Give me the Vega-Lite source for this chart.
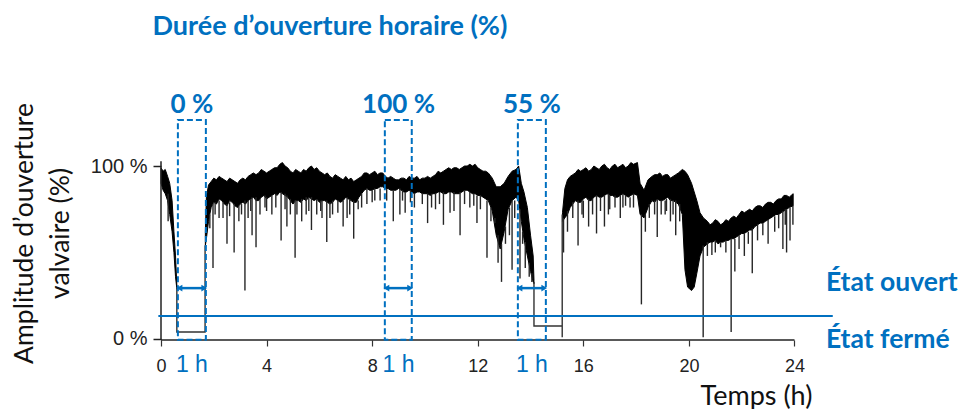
{
  "$schema": "https://vega.github.io/schema/vega-lite/v6.json",
  "width": 799,
  "height": 340,
  "autosize": {"type": "none"},
  "padding": {"left": 161, "top": 0, "right": 0, "bottom": 69},
  "background": "white",
  "config": {"view": {"stroke": null}, "font": "Liberation Sans"},
  "datasets": {
    "band": [
      {"seg": "A", "t": 0.0, "hi": 99, "lo": 90},
      {"seg": "A", "t": 0.08, "hi": 97, "lo": 86},
      {"seg": "A", "t": 0.16, "hi": 98, "lo": 84},
      {"seg": "A", "t": 0.25, "hi": 94, "lo": 80},
      {"seg": "A", "t": 0.33, "hi": 90, "lo": 72},
      {"seg": "A", "t": 0.42, "hi": 80, "lo": 62},
      {"seg": "A", "t": 0.49, "hi": 62, "lo": 50},
      {"seg": "A", "t": 0.55, "hi": 48, "lo": 36},
      {"seg": "A", "t": 0.6, "hi": 31, "lo": 29},
      {"seg": "B", "t": 1.68, "hi": 62, "lo": 54},
      {"seg": "B", "t": 1.72, "hi": 82, "lo": 58},
      {"seg": "B", "t": 1.8, "hi": 89, "lo": 68},
      {"seg": "B", "t": 1.9, "hi": 91, "lo": 76},
      {"seg": "B", "t": 2.0, "hi": 93, "lo": 79},
      {"seg": "B", "t": 2.1, "hi": 92, "lo": 78},
      {"seg": "B", "t": 2.2, "hi": 94, "lo": 81},
      {"seg": "B", "t": 2.3, "hi": 93, "lo": 80},
      {"seg": "B", "t": 2.4, "hi": 92, "lo": 78},
      {"seg": "B", "t": 2.5, "hi": 91, "lo": 77},
      {"seg": "B", "t": 2.6, "hi": 93, "lo": 80},
      {"seg": "B", "t": 2.7, "hi": 92, "lo": 79},
      {"seg": "B", "t": 2.8, "hi": 91, "lo": 77},
      {"seg": "B", "t": 2.9, "hi": 90, "lo": 76},
      {"seg": "B", "t": 3.0, "hi": 92, "lo": 78},
      {"seg": "B", "t": 3.1, "hi": 93, "lo": 79},
      {"seg": "B", "t": 3.2, "hi": 92, "lo": 78},
      {"seg": "B", "t": 3.3, "hi": 94, "lo": 80},
      {"seg": "B", "t": 3.4, "hi": 95, "lo": 81},
      {"seg": "B", "t": 3.5, "hi": 96, "lo": 82},
      {"seg": "B", "t": 3.6, "hi": 95, "lo": 80},
      {"seg": "B", "t": 3.7, "hi": 96, "lo": 80},
      {"seg": "B", "t": 3.8, "hi": 98, "lo": 82},
      {"seg": "B", "t": 3.9, "hi": 97, "lo": 83},
      {"seg": "B", "t": 4.0, "hi": 96, "lo": 81},
      {"seg": "B", "t": 4.1, "hi": 97, "lo": 82},
      {"seg": "B", "t": 4.2, "hi": 98, "lo": 83},
      {"seg": "B", "t": 4.3, "hi": 99, "lo": 84},
      {"seg": "B", "t": 4.4, "hi": 99, "lo": 83},
      {"seg": "B", "t": 4.5, "hi": 101, "lo": 85},
      {"seg": "B", "t": 4.6, "hi": 102, "lo": 84},
      {"seg": "B", "t": 4.7, "hi": 100, "lo": 83},
      {"seg": "B", "t": 4.8, "hi": 99, "lo": 82},
      {"seg": "B", "t": 4.9, "hi": 97, "lo": 80},
      {"seg": "B", "t": 5.0, "hi": 96, "lo": 78},
      {"seg": "B", "t": 5.1, "hi": 98, "lo": 80},
      {"seg": "B", "t": 5.2, "hi": 97, "lo": 80},
      {"seg": "B", "t": 5.3, "hi": 96, "lo": 79},
      {"seg": "B", "t": 5.4, "hi": 98, "lo": 81},
      {"seg": "B", "t": 5.5, "hi": 97, "lo": 80},
      {"seg": "B", "t": 5.6, "hi": 99, "lo": 82},
      {"seg": "B", "t": 5.7, "hi": 100, "lo": 81},
      {"seg": "B", "t": 5.8, "hi": 98, "lo": 80},
      {"seg": "B", "t": 5.9, "hi": 99, "lo": 81},
      {"seg": "B", "t": 6.0, "hi": 97, "lo": 79},
      {"seg": "B", "t": 6.1, "hi": 96, "lo": 80},
      {"seg": "B", "t": 6.2, "hi": 95, "lo": 80},
      {"seg": "B", "t": 6.3, "hi": 96, "lo": 79},
      {"seg": "B", "t": 6.4, "hi": 94, "lo": 78},
      {"seg": "B", "t": 6.5, "hi": 93, "lo": 79},
      {"seg": "B", "t": 6.6, "hi": 95, "lo": 81},
      {"seg": "B", "t": 6.7, "hi": 94, "lo": 80},
      {"seg": "B", "t": 6.8, "hi": 93, "lo": 79},
      {"seg": "B", "t": 6.9, "hi": 92, "lo": 80},
      {"seg": "B", "t": 7.0, "hi": 94, "lo": 82},
      {"seg": "B", "t": 7.1, "hi": 92, "lo": 81},
      {"seg": "B", "t": 7.2, "hi": 93, "lo": 80},
      {"seg": "B", "t": 7.3, "hi": 91, "lo": 79},
      {"seg": "B", "t": 7.4, "hi": 92, "lo": 79},
      {"seg": "B", "t": 7.5, "hi": 93, "lo": 82},
      {"seg": "B", "t": 7.6, "hi": 94, "lo": 84},
      {"seg": "B", "t": 7.7, "hi": 96, "lo": 86},
      {"seg": "B", "t": 7.8, "hi": 96, "lo": 87},
      {"seg": "B", "t": 7.9, "hi": 95, "lo": 86},
      {"seg": "B", "t": 8.0, "hi": 96, "lo": 86},
      {"seg": "B", "t": 8.1, "hi": 97, "lo": 87},
      {"seg": "B", "t": 8.2, "hi": 95, "lo": 87},
      {"seg": "B", "t": 8.3, "hi": 96, "lo": 88},
      {"seg": "B", "t": 8.4, "hi": 96, "lo": 88},
      {"seg": "B", "t": 8.5, "hi": 94, "lo": 87},
      {"seg": "B", "t": 8.6, "hi": 93, "lo": 87},
      {"seg": "B", "t": 8.7, "hi": 94, "lo": 86},
      {"seg": "B", "t": 8.8, "hi": 93, "lo": 86},
      {"seg": "B", "t": 8.9, "hi": 92, "lo": 86},
      {"seg": "B", "t": 9.0, "hi": 92, "lo": 87},
      {"seg": "B", "t": 9.1, "hi": 93, "lo": 86},
      {"seg": "B", "t": 9.2, "hi": 93, "lo": 85},
      {"seg": "B", "t": 9.3, "hi": 92, "lo": 85},
      {"seg": "B", "t": 9.4, "hi": 94, "lo": 86},
      {"seg": "B", "t": 9.5, "hi": 93, "lo": 85},
      {"seg": "B", "t": 9.6, "hi": 93, "lo": 84},
      {"seg": "B", "t": 9.7, "hi": 94, "lo": 85},
      {"seg": "B", "t": 9.8, "hi": 92, "lo": 85},
      {"seg": "B", "t": 9.9, "hi": 93, "lo": 84},
      {"seg": "B", "t": 10.0, "hi": 93, "lo": 84},
      {"seg": "B", "t": 10.1, "hi": 94, "lo": 84},
      {"seg": "B", "t": 10.2, "hi": 93, "lo": 83},
      {"seg": "B", "t": 10.3, "hi": 94, "lo": 84},
      {"seg": "B", "t": 10.4, "hi": 95, "lo": 84},
      {"seg": "B", "t": 10.5, "hi": 97, "lo": 85},
      {"seg": "B", "t": 10.6, "hi": 96, "lo": 85},
      {"seg": "B", "t": 10.7, "hi": 97, "lo": 84},
      {"seg": "B", "t": 10.8, "hi": 98, "lo": 84},
      {"seg": "B", "t": 10.9, "hi": 99, "lo": 85},
      {"seg": "B", "t": 11.0, "hi": 98, "lo": 85},
      {"seg": "B", "t": 11.1, "hi": 99, "lo": 84},
      {"seg": "B", "t": 11.2, "hi": 99, "lo": 84},
      {"seg": "B", "t": 11.3, "hi": 98, "lo": 84},
      {"seg": "B", "t": 11.4, "hi": 99, "lo": 85},
      {"seg": "B", "t": 11.5, "hi": 100, "lo": 86},
      {"seg": "B", "t": 11.6, "hi": 100, "lo": 86},
      {"seg": "B", "t": 11.7, "hi": 101, "lo": 85},
      {"seg": "B", "t": 11.8, "hi": 100, "lo": 84},
      {"seg": "B", "t": 11.9, "hi": 101, "lo": 84},
      {"seg": "B", "t": 12.0, "hi": 99, "lo": 83},
      {"seg": "B", "t": 12.1, "hi": 98, "lo": 83},
      {"seg": "B", "t": 12.2, "hi": 97, "lo": 82},
      {"seg": "B", "t": 12.3, "hi": 97, "lo": 81},
      {"seg": "B", "t": 12.4, "hi": 96, "lo": 80},
      {"seg": "B", "t": 12.55, "hi": 93, "lo": 74},
      {"seg": "B", "t": 12.7, "hi": 88, "lo": 60},
      {"seg": "B", "t": 12.85, "hi": 88, "lo": 52},
      {"seg": "B", "t": 13.0, "hi": 90, "lo": 62},
      {"seg": "B", "t": 13.15, "hi": 94, "lo": 75},
      {"seg": "B", "t": 13.3, "hi": 97, "lo": 80},
      {"seg": "B", "t": 13.45, "hi": 98, "lo": 82},
      {"seg": "B", "t": 13.55, "hi": 100, "lo": 80},
      {"seg": "B", "t": 13.65, "hi": 90, "lo": 68},
      {"seg": "B", "t": 13.75, "hi": 85, "lo": 58},
      {"seg": "B", "t": 13.88, "hi": 76, "lo": 48},
      {"seg": "B", "t": 14.0, "hi": 60, "lo": 39},
      {"seg": "B", "t": 14.1, "hi": 48, "lo": 33},
      {"seg": "B", "t": 14.13, "hi": 34, "lo": 32},
      {"seg": "C", "t": 15.21, "hi": 73, "lo": 68},
      {"seg": "C", "t": 15.3, "hi": 87, "lo": 70},
      {"seg": "C", "t": 15.4, "hi": 92, "lo": 72},
      {"seg": "C", "t": 15.5, "hi": 94, "lo": 76},
      {"seg": "C", "t": 15.6, "hi": 95, "lo": 78},
      {"seg": "C", "t": 15.7, "hi": 96, "lo": 80},
      {"seg": "C", "t": 15.8, "hi": 98, "lo": 79},
      {"seg": "C", "t": 15.9, "hi": 97, "lo": 79},
      {"seg": "C", "t": 16.0, "hi": 98, "lo": 81},
      {"seg": "C", "t": 16.1, "hi": 99, "lo": 82},
      {"seg": "C", "t": 16.2, "hi": 97, "lo": 80},
      {"seg": "C", "t": 16.3, "hi": 98, "lo": 80},
      {"seg": "C", "t": 16.4, "hi": 100, "lo": 82},
      {"seg": "C", "t": 16.5, "hi": 99, "lo": 83},
      {"seg": "C", "t": 16.6, "hi": 98, "lo": 82},
      {"seg": "C", "t": 16.7, "hi": 100, "lo": 82},
      {"seg": "C", "t": 16.8, "hi": 101, "lo": 83},
      {"seg": "C", "t": 16.9, "hi": 99, "lo": 84},
      {"seg": "C", "t": 17.0, "hi": 98, "lo": 83},
      {"seg": "C", "t": 17.1, "hi": 100, "lo": 83},
      {"seg": "C", "t": 17.2, "hi": 101, "lo": 82},
      {"seg": "C", "t": 17.3, "hi": 99, "lo": 82},
      {"seg": "C", "t": 17.4, "hi": 100, "lo": 83},
      {"seg": "C", "t": 17.5, "hi": 101, "lo": 84},
      {"seg": "C", "t": 17.6, "hi": 99, "lo": 83},
      {"seg": "C", "t": 17.7, "hi": 100, "lo": 82},
      {"seg": "C", "t": 17.8, "hi": 102, "lo": 83},
      {"seg": "C", "t": 17.9, "hi": 101, "lo": 84},
      {"seg": "C", "t": 18.05, "hi": 102, "lo": 83},
      {"seg": "C", "t": 18.15, "hi": 90, "lo": 72},
      {"seg": "C", "t": 18.3, "hi": 86, "lo": 70},
      {"seg": "C", "t": 18.45, "hi": 92, "lo": 76},
      {"seg": "C", "t": 18.6, "hi": 94, "lo": 80},
      {"seg": "C", "t": 18.7, "hi": 95, "lo": 79},
      {"seg": "C", "t": 18.8, "hi": 95, "lo": 81},
      {"seg": "C", "t": 18.9, "hi": 96, "lo": 80},
      {"seg": "C", "t": 19.0, "hi": 94, "lo": 80},
      {"seg": "C", "t": 19.1, "hi": 95, "lo": 81},
      {"seg": "C", "t": 19.2, "hi": 95, "lo": 82},
      {"seg": "C", "t": 19.3, "hi": 93, "lo": 80},
      {"seg": "C", "t": 19.4, "hi": 94, "lo": 80},
      {"seg": "C", "t": 19.5, "hi": 95, "lo": 79},
      {"seg": "C", "t": 19.6, "hi": 96, "lo": 78},
      {"seg": "C", "t": 19.75, "hi": 98, "lo": 72},
      {"seg": "C", "t": 19.85, "hi": 97, "lo": 40},
      {"seg": "C", "t": 19.95, "hi": 95, "lo": 30},
      {"seg": "C", "t": 20.1, "hi": 90, "lo": 28},
      {"seg": "C", "t": 20.2, "hi": 85, "lo": 30},
      {"seg": "C", "t": 20.3, "hi": 80, "lo": 38},
      {"seg": "C", "t": 20.42, "hi": 73, "lo": 48},
      {"seg": "C", "t": 20.55, "hi": 70, "lo": 53},
      {"seg": "C", "t": 20.7, "hi": 68, "lo": 55},
      {"seg": "C", "t": 20.8, "hi": 66, "lo": 56},
      {"seg": "C", "t": 20.9, "hi": 67, "lo": 56},
      {"seg": "C", "t": 21.0, "hi": 69, "lo": 57},
      {"seg": "C", "t": 21.1, "hi": 68, "lo": 55},
      {"seg": "C", "t": 21.2, "hi": 66, "lo": 56},
      {"seg": "C", "t": 21.3, "hi": 67, "lo": 56},
      {"seg": "C", "t": 21.4, "hi": 69, "lo": 57},
      {"seg": "C", "t": 21.5, "hi": 68, "lo": 57},
      {"seg": "C", "t": 21.6, "hi": 70, "lo": 58},
      {"seg": "C", "t": 21.7, "hi": 71, "lo": 58},
      {"seg": "C", "t": 21.8, "hi": 70, "lo": 59},
      {"seg": "C", "t": 21.9, "hi": 72, "lo": 60},
      {"seg": "C", "t": 22.0, "hi": 74, "lo": 61},
      {"seg": "C", "t": 22.1, "hi": 73, "lo": 61},
      {"seg": "C", "t": 22.2, "hi": 74, "lo": 62},
      {"seg": "C", "t": 22.3, "hi": 75, "lo": 63},
      {"seg": "C", "t": 22.4, "hi": 74, "lo": 63},
      {"seg": "C", "t": 22.5, "hi": 76, "lo": 65},
      {"seg": "C", "t": 22.6, "hi": 77, "lo": 66},
      {"seg": "C", "t": 22.7, "hi": 77, "lo": 67},
      {"seg": "C", "t": 22.8, "hi": 76, "lo": 67},
      {"seg": "C", "t": 22.9, "hi": 78, "lo": 68},
      {"seg": "C", "t": 23.0, "hi": 79, "lo": 69},
      {"seg": "C", "t": 23.1, "hi": 79, "lo": 70},
      {"seg": "C", "t": 23.2, "hi": 78, "lo": 71},
      {"seg": "C", "t": 23.3, "hi": 80, "lo": 72},
      {"seg": "C", "t": 23.4, "hi": 81, "lo": 72},
      {"seg": "C", "t": 23.5, "hi": 81, "lo": 73},
      {"seg": "C", "t": 23.6, "hi": 83, "lo": 74},
      {"seg": "C", "t": 23.7, "hi": 83, "lo": 75},
      {"seg": "C", "t": 23.8, "hi": 82, "lo": 76},
      {"seg": "C", "t": 23.95, "hi": 84, "lo": 77}
    ],
    "spikes": [
      {"t": 0.27, "v": 68, "top": 84},
      {"t": 1.85, "v": 64, "top": 72},
      {"t": 1.97, "v": 41, "top": 78},
      {"t": 2.05, "v": 72, "top": 79},
      {"t": 2.2, "v": 70, "top": 80},
      {"t": 2.35, "v": 70, "top": 79},
      {"t": 2.5, "v": 55, "top": 78},
      {"t": 2.6, "v": 71, "top": 79},
      {"t": 2.77, "v": 50, "top": 78},
      {"t": 2.95, "v": 68, "top": 77},
      {"t": 3.05, "v": 72, "top": 78},
      {"t": 3.18, "v": 28, "top": 80},
      {"t": 3.3, "v": 70, "top": 80},
      {"t": 3.4, "v": 74, "top": 81},
      {"t": 3.45, "v": 60, "top": 82},
      {"t": 3.6, "v": 53, "top": 82},
      {"t": 3.75, "v": 72, "top": 81},
      {"t": 3.94, "v": 76, "top": 83},
      {"t": 4.0, "v": 74, "top": 82},
      {"t": 4.2, "v": 72, "top": 83},
      {"t": 4.35, "v": 76, "top": 84},
      {"t": 4.55, "v": 57, "top": 85},
      {"t": 4.7, "v": 75, "top": 84},
      {"t": 4.77, "v": 65, "top": 83},
      {"t": 4.9, "v": 72, "top": 81},
      {"t": 5.08, "v": 47, "top": 80},
      {"t": 5.15, "v": 72, "top": 80},
      {"t": 5.33, "v": 68, "top": 81},
      {"t": 5.5, "v": 72, "top": 82},
      {"t": 5.6, "v": 74, "top": 82},
      {"t": 5.7, "v": 63, "top": 82},
      {"t": 5.9, "v": 72, "top": 81},
      {"t": 6.05, "v": 74, "top": 80},
      {"t": 6.1, "v": 70, "top": 80},
      {"t": 6.28, "v": 56, "top": 80},
      {"t": 6.4, "v": 70, "top": 79},
      {"t": 6.5, "v": 72, "top": 80},
      {"t": 6.7, "v": 73, "top": 80},
      {"t": 6.9, "v": 65, "top": 80},
      {"t": 7.05, "v": 70, "top": 82},
      {"t": 7.15, "v": 72, "top": 81},
      {"t": 7.3, "v": 58, "top": 80},
      {"t": 7.47, "v": 75, "top": 80},
      {"t": 7.6, "v": 76, "top": 84},
      {"t": 7.8, "v": 78, "top": 87},
      {"t": 8.0, "v": 79, "top": 86},
      {"t": 8.1, "v": 80, "top": 87},
      {"t": 8.3, "v": 80, "top": 87},
      {"t": 8.55, "v": 80, "top": 87},
      {"t": 8.8, "v": 68, "top": 86},
      {"t": 9.05, "v": 72, "top": 87},
      {"t": 9.15, "v": 80, "top": 86},
      {"t": 9.25, "v": 73, "top": 85},
      {"t": 9.45, "v": 79, "top": 86},
      {"t": 9.6, "v": 76, "top": 84},
      {"t": 9.9, "v": 78, "top": 84},
      {"t": 10.1, "v": 67, "top": 84},
      {"t": 10.25, "v": 76, "top": 84},
      {"t": 10.4, "v": 75, "top": 84},
      {"t": 10.55, "v": 78, "top": 85},
      {"t": 10.7, "v": 66, "top": 85},
      {"t": 10.95, "v": 73, "top": 85},
      {"t": 11.1, "v": 74, "top": 85},
      {"t": 11.33, "v": 60, "top": 85},
      {"t": 11.5, "v": 78, "top": 86},
      {"t": 11.7, "v": 76, "top": 85},
      {"t": 11.85, "v": 77, "top": 84},
      {"t": 11.97, "v": 67, "top": 83},
      {"t": 12.1, "v": 75, "top": 83},
      {"t": 12.35, "v": 47, "top": 80},
      {"t": 12.5, "v": 68, "top": 76},
      {"t": 12.65, "v": 67, "top": 70},
      {"t": 12.77, "v": 44, "top": 60},
      {"t": 12.9, "v": 33, "top": 55},
      {"t": 13.05, "v": 55, "top": 65},
      {"t": 13.2, "v": 60, "top": 76},
      {"t": 13.3, "v": 40, "top": 80},
      {"t": 13.4, "v": 70, "top": 80},
      {"t": 13.6, "v": 35, "top": 75},
      {"t": 13.7, "v": 55, "top": 62},
      {"t": 13.8, "v": 41, "top": 56},
      {"t": 13.95, "v": 36, "top": 44},
      {"t": 14.05, "v": 33, "top": 38},
      {"t": 15.25, "v": 50, "top": 70},
      {"t": 15.4, "v": 62, "top": 74},
      {"t": 15.6, "v": 70, "top": 79},
      {"t": 15.8, "v": 54, "top": 80},
      {"t": 15.95, "v": 72, "top": 80},
      {"t": 16.0, "v": 70, "top": 80},
      {"t": 16.2, "v": 65, "top": 81},
      {"t": 16.35, "v": 72, "top": 81},
      {"t": 16.5, "v": 61, "top": 83},
      {"t": 16.65, "v": 74, "top": 82},
      {"t": 16.8, "v": 65, "top": 83},
      {"t": 16.95, "v": 72, "top": 84},
      {"t": 17.0, "v": 75, "top": 83},
      {"t": 17.2, "v": 76, "top": 83},
      {"t": 17.4, "v": 70, "top": 83},
      {"t": 17.5, "v": 76, "top": 84},
      {"t": 17.6, "v": 77, "top": 83},
      {"t": 17.77, "v": 76, "top": 82},
      {"t": 17.9, "v": 76, "top": 84},
      {"t": 18.2, "v": 20, "top": 72},
      {"t": 18.35, "v": 62, "top": 72},
      {"t": 18.5, "v": 70, "top": 78},
      {"t": 18.7, "v": 72, "top": 80},
      {"t": 18.8, "v": 59, "top": 81},
      {"t": 18.95, "v": 72, "top": 80},
      {"t": 19.1, "v": 72, "top": 80},
      {"t": 19.15, "v": 74, "top": 81},
      {"t": 19.3, "v": 68, "top": 81},
      {"t": 19.4, "v": 72, "top": 80},
      {"t": 19.5, "v": 60, "top": 80},
      {"t": 19.65, "v": 68, "top": 78},
      {"t": 20.54, "v": 1, "top": 54},
      {"t": 20.7, "v": 48, "top": 56},
      {"t": 20.87, "v": 48.5, "top": 56},
      {"t": 21.0, "v": 50, "top": 57},
      {"t": 21.2, "v": 53, "top": 56},
      {"t": 21.4, "v": 50, "top": 57},
      {"t": 21.6, "v": 4, "top": 58},
      {"t": 21.74, "v": 39, "top": 58},
      {"t": 21.9, "v": 52, "top": 60},
      {"t": 22.1, "v": 48, "top": 61},
      {"t": 22.25, "v": 55, "top": 62},
      {"t": 22.4, "v": 38, "top": 64},
      {"t": 22.6, "v": 57, "top": 66},
      {"t": 22.8, "v": 60, "top": 67},
      {"t": 23.0, "v": 55, "top": 69},
      {"t": 23.25, "v": 62, "top": 71},
      {"t": 23.4, "v": 64, "top": 72},
      {"t": 23.56, "v": 52, "top": 74},
      {"t": 23.65, "v": 66, "top": 75},
      {"t": 23.7, "v": 50, "top": 75},
      {"t": 23.83, "v": 57, "top": 76},
      {"t": 23.94, "v": 66, "top": 77}
    ],
    "closed": [
      {"seg": "L1", "o": 1, "t": 0.6, "v": 30},
      {"seg": "L1", "o": 2, "t": 0.6, "v": 4},
      {"seg": "L1", "o": 3, "t": 1.67, "v": 4},
      {"seg": "L1", "o": 4, "t": 1.67, "v": 54},
      {"seg": "L2", "o": 1, "t": 14.13, "v": 33},
      {"seg": "L2", "o": 2, "t": 14.13, "v": 7.5},
      {"seg": "L2", "o": 3, "t": 15.2, "v": 7.5},
      {"seg": "L2", "o": 4, "t": 15.2, "v": 1},
      {"seg": "L2", "o": 5, "t": 15.2, "v": 72}
    ],
    "axislines": [
      {"t": 0, "t2": 0, "v": -0.6, "v2": 102.7},
      {"t": 0, "t2": 24, "v": -0.6, "v2": -0.6}
    ],
    "threshold": [{"t": -0.1, "t2": 25.45, "v": 13.25}],
    "boxes": [
      {"t1": 0.64, "t2": 1.7, "v1": -0.4, "v2": 126.6},
      {"t1": 8.48, "t2": 9.5, "v1": -0.4, "v2": 126.6},
      {"t1": 13.52, "t2": 14.58, "v1": -0.4, "v2": 126.6}
    ],
    "arrows": [
      {"a": 0.7, "b": 1.64, "v": 29.4},
      {"a": 8.54, "b": 9.44, "v": 29.4},
      {"a": 13.58, "b": 14.52, "v": 29.4}
    ],
    "pct": [
      {"txt": "0 %", "t": 1.17, "v": 130.5},
      {"txt": "100 %", "t": 9.0, "v": 130.5},
      {"txt": "55 %", "t": 14.05, "v": 130.5}
    ],
    "hours": [
      {"txt": "1 h", "t": 1.17, "v": -19},
      {"txt": "1 h", "t": 9.0, "v": -19},
      {"txt": "1 h", "t": 14.05, "v": -19}
    ],
    "states": [
      {"txt": "État ouvert", "t": 25.19, "v": 27.7},
      {"txt": "État fermé", "t": 25.19, "v": -5.2}
    ],
    "heading": [{"txt": "Durée d’ouverture horaire (%)", "t": 6.4, "v": 175.5}]
  },
  "layer": [
    {
      "data": {"name": "band"},
      "mark": {"type": "area", "color": "#000", "stroke": "#000", "strokeWidth": 1},
      "encoding": {
        "x": {
          "field": "t", "type": "quantitative",
          "scale": {"domain": [0, 30.27], "nice": false, "zero": false},
          "axis": {
            "values": [0, 4, 8, 12, 16, 20, 24], "domain": false, "grid": false,
            "tickSize": 6, "tickColor": "#333", "tickWidth": 1.2,
            "labelFontSize": 18, "labelPadding": 11, "labelColor": "#222", "labelFlush": false,
            "title": "Temps (h)", "titleFont": "Lato", "titleFontSize": 27, "titleFontWeight": "normal",
            "titleColor": "#111", "titleX": 595, "titleY": 64, "titleAlign": "center", "titleBaseline": "alphabetic"
          }
        },
        "y": {
          "field": "hi", "type": "quantitative",
          "scale": {"domain": [-0.6, 196], "nice": false, "zero": false},
          "axis": {
            "values": [0, 100], "domain": false, "grid": false,
            "tickSize": 8, "tickColor": "#222", "tickWidth": 1.5,
            "labelFontSize": 20, "labelPadding": 6, "labelColor": "#222",
            "labelExpr": "datum.value + ' %'",
            "title": ["Amplitude d’ouverture", "valvaire (%)"],
            "titleFont": "Lato", "titleFontSize": 26.5, "titleFontWeight": "normal", "titleColor": "#111",
            "titleLineHeight": 36, "titleAngle": 270, "titleX": -129, "titleY": 233,
            "titleAlign": "center", "titleBaseline": "alphabetic"
          }
        },
        "y2": {"field": "lo"},
        "detail": {"field": "seg"}
      }
    },
    {
      "data": {"name": "spikes"},
      "mark": {"type": "rule", "color": "#262626", "strokeWidth": 1.4},
      "encoding": {
        "x": {"field": "t", "type": "quantitative"},
        "y": {"field": "v", "type": "quantitative"},
        "y2": {"field": "top"}
      }
    },
    {
      "data": {"name": "closed"},
      "mark": {"type": "line", "color": "#333", "strokeWidth": 1.4},
      "encoding": {
        "x": {"field": "t", "type": "quantitative"},
        "y": {"field": "v", "type": "quantitative"},
        "detail": {"field": "seg"},
        "order": {"field": "o"}
      }
    },
    {
      "data": {"name": "axislines"},
      "mark": {"type": "rule", "color": "#222", "strokeWidth": 1.5},
      "encoding": {
        "x": {"field": "t", "type": "quantitative"},
        "x2": {"field": "t2"},
        "y": {"field": "v", "type": "quantitative"},
        "y2": {"field": "v2"}
      }
    },
    {
      "data": {"name": "threshold"},
      "mark": {"type": "rule", "color": "#0070C0", "strokeWidth": 2},
      "encoding": {
        "x": {"field": "t", "type": "quantitative"},
        "x2": {"field": "t2"},
        "y": {"field": "v", "type": "quantitative"}
      }
    },
    {
      "data": {"name": "boxes"},
      "mark": {"type": "rect", "fillOpacity": 0, "stroke": "#0070C0", "strokeWidth": 2, "strokeDash": [6, 3]},
      "encoding": {
        "x": {"field": "t1", "type": "quantitative"},
        "x2": {"field": "t2"},
        "y": {"field": "v1", "type": "quantitative"},
        "y2": {"field": "v2"}
      }
    },
    {
      "data": {"name": "arrows"},
      "mark": {"type": "rule", "color": "#0070C0", "strokeWidth": 2.5},
      "encoding": {
        "x": {"field": "a", "type": "quantitative"},
        "x2": {"field": "b"},
        "y": {"field": "v", "type": "quantitative"}
      }
    },
    {
      "data": {"name": "arrows"},
      "mark": {"type": "point", "shape": "triangle-left", "filled": true, "color": "#0070C0", "size": 45, "opacity": 1},
      "encoding": {
        "x": {"field": "a", "type": "quantitative"},
        "y": {"field": "v", "type": "quantitative"}
      }
    },
    {
      "data": {"name": "arrows"},
      "mark": {"type": "point", "shape": "triangle-right", "filled": true, "color": "#0070C0", "size": 45, "opacity": 1},
      "encoding": {
        "x": {"field": "b", "type": "quantitative"},
        "y": {"field": "v", "type": "quantitative"}
      }
    },
    {
      "data": {"name": "pct"},
      "mark": {"type": "text", "font": "Lato", "fontWeight": "bold", "fontSize": 26, "color": "#0070C0", "align": "center", "baseline": "alphabetic"},
      "encoding": {
        "x": {"field": "t", "type": "quantitative"},
        "y": {"field": "v", "type": "quantitative"},
        "text": {"field": "txt"}
      }
    },
    {
      "data": {"name": "hours"},
      "mark": {"type": "text", "font": "Liberation Sans", "fontSize": 23, "color": "#0070C0", "align": "center", "baseline": "alphabetic"},
      "encoding": {
        "x": {"field": "t", "type": "quantitative"},
        "y": {"field": "v", "type": "quantitative"},
        "text": {"field": "txt"}
      }
    },
    {
      "data": {"name": "states"},
      "mark": {"type": "text", "font": "Lato", "fontWeight": "bold", "fontSize": 26.5, "color": "#0070C0", "align": "left", "baseline": "alphabetic"},
      "encoding": {
        "x": {"field": "t", "type": "quantitative"},
        "y": {"field": "v", "type": "quantitative"},
        "text": {"field": "txt"}
      }
    },
    {
      "data": {"name": "heading"},
      "mark": {"type": "text", "font": "Lato", "fontWeight": "bold", "fontSize": 27, "color": "#0070C0", "align": "center", "baseline": "alphabetic"},
      "encoding": {
        "x": {"field": "t", "type": "quantitative"},
        "y": {"field": "v", "type": "quantitative"},
        "text": {"field": "txt"}
      }
    }
  ]
}
